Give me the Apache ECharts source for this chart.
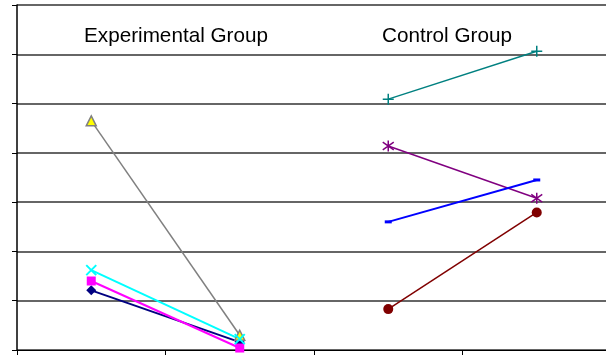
<!DOCTYPE html>
<html>
<head>
<meta charset="utf-8">
<script src="https://cdn.jsdelivr.net/npm/echarts@6/dist/echarts.min.js"></script>
<style>
html,body{margin:0;padding:0;background:#fff;overflow:hidden;width:606px;height:355px;}
#c{width:612px;height:355px;}
</style>
</head>
<body>
<div id="c"></div>
<script>
var categories = ['1', '2', '3', '4'];
var groupLabels = ['Experimental Group', 'Control Group'];
var yTicks = [0, 1, 2, 3, 4, 5, 6, 7];

var navy     = [1.21, 0.16, null, null];
var magenta  = [1.40, 0.04, null, null];
var grayTri  = [4.65, 0.30, null, null];
var cyanX    = [1.62, 0.22, null, null];
var tealPlus = [null, null, 5.09, 6.06];
var purpleAst= [null, null, 4.14, 3.08];
var blueDash = [null, null, 2.60, 3.45];
var darkRed  = [null, null, 0.83, 2.79];

var X_PATH = 'path://M0,0L10,10M10,0L0,10';
var PLUS_PATH = 'path://M5,0L5,10M0,5L10,5';
var AST_PATH = 'path://M5,0L5,10M0,1.5L10,8.5M0,8.5L10,1.5';

function mk(name, data, color, symbol, size, lw, extra) {
  var s = {
    name: name, type: 'line', data: data, connectNulls: false,
    symbol: symbol, symbolSize: size, showSymbol: true,
    lineStyle: {color: color, width: lw},
    itemStyle: {color: color, borderColor: color, borderWidth: 0, opacity: 1},
    z: 3
  };
  if (extra) {
    for (var k in extra) s[k] = extra[k];
  }
  return s;
}

var chart = echarts.init(document.getElementById('c'), null, {renderer: 'canvas'});
chart.setOption({
  animation: false,
  backgroundColor: '#ffffff',
  grid: {left: 17, top: 5, right: 1, bottom: 5, containLabel: false},
  xAxis: {
    type: 'category', data: categories, boundaryGap: true,
    axisLine: {show: true, lineStyle: {color: '#000', width: 1}},
    axisTick: {show: true, length: 5, inside: false, lineStyle: {color: '#000'}},
    axisLabel: {show: false},
    splitLine: {show: false}
  },
  yAxis: {
    type: 'value', min: yTicks[0], max: yTicks[yTicks.length - 1], interval: 1,
    axisLine: {show: true, lineStyle: {color: '#000', width: 1.5}},
    axisTick: {show: true, length: 5, inside: false, lineStyle: {color: '#000'}},
    axisLabel: {show: false},
    splitLine: {show: true, lineStyle: {color: '#333333', width: 1.5}}
  },
  graphic: [
    {type: 'text', left: 84, top: 26, silent: true,
     style: {text: groupLabels[0], font: '20.7px "Liberation Sans", Arial, sans-serif', fill: '#000'}},
    {type: 'text', left: 382, top: 26, silent: true,
     style: {text: groupLabels[1], font: '20.7px "Liberation Sans", Arial, sans-serif', fill: '#000'}}
  ],
  series: [
    mk('S1', navy, '#000080', 'diamond', 10, 2),
    mk('S2', magenta, '#FF00FF', 'rect', 9, 2),
    mk('S3', grayTri, '#808080', 'triangle', 10, 1.5, {itemStyle: {color: '#FFFF00', borderColor: '#808080', borderWidth: 1.5}}),
    mk('S4', cyanX, '#00FFFF', X_PATH, 10, 2, {itemStyle: {color: 'none', borderColor: '#00FFFF', borderWidth: 2}}),
    mk('S5', tealPlus, '#008080', PLUS_PATH, 11, 1.5, {itemStyle: {color: 'none', borderColor: '#008080', borderWidth: 1.5}}),
    mk('S6', purpleAst, '#800080', AST_PATH, 11, 1.5, {itemStyle: {color: 'none', borderColor: '#800080', borderWidth: 1.5}}),
    mk('S7', blueDash, '#0000FF', 'rect', [7, 3], 2),
    mk('S8', darkRed, '#800000', 'circle', 10, 1.5)
  ]
});
</script>
</body>
</html>
